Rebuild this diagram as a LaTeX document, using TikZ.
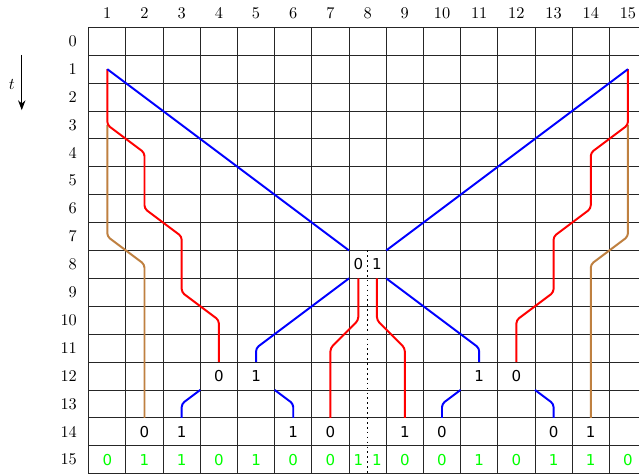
\documentclass[tikz,border=0pt]{standalone}
\usepackage{fontspec}
\newfontfamily\dejavu{DejaVu Sans}
\usetikzlibrary{arrows.meta}
\begin{document}
\begin{tikzpicture}[x=0.8cm,y=-0.6cm,
  gridline/.style={line width=0.5pt,black!85},
  world/.style={line width=1.2pt,rounded corners=2pt},
  axlab/.style={font=\fontsize{10}{12}\selectfont,inner sep=0pt},
  bit/.style={font=\dejavu\fontsize{9.2}{11}\selectfont,inner sep=0pt},
  outbit/.style={bit,text=green}]
\useasboundingbox (-1.885,-1.479) rectangle (15.297,15.525);
\clip (-1.885,-1.479) rectangle (15.297,15.525);
% grid
\foreach \i in {0,...,15} \draw[gridline] (\i+0.5,-0.5) -- (\i+0.5,15.5);
\foreach \j in {0,...,16} \draw[gridline] (0.5,\j-0.5) -- (15.6,\j-0.5);
% axis labels
\foreach \c in {1,...,15} \node[axlab] (col\c) at (\c,-1) {\c};
\foreach \r in {0,...,15} \node[axlab,anchor=east] (row\r) at (0.19,\r) {\r};
\coordinate (tA) at (-1.30,0.49);
\coordinate (tB) at (-1.30,2.47);
\draw[semithick,-{Stealth[length=6pt,width=4.5pt]}] (tA) -- (tB);
\node[axlab] (tlab) at (-1.57,1.545) {$t$};
% dotted separator
\coordinate (dA) at (8,7.5);
\coordinate (dB) at (8,15.6);
\draw[dotted,line width=1pt] (dA) -- (dB);
% brown world lines
\draw[world,brown] (1,3) -- (1,7) -- (2,8) -- (2,13.5);
\draw[world,brown] (15,3) -- (15,7) -- (14,8) -- (14,13.5);
% red world lines
\draw[world,red] (1,1) -- (1,3) -- (2,4) -- (2,6) -- (3,7) -- (3,9) -- (4,10) -- (4,11.5);
\draw[world,red] (15,1) -- (15,3) -- (14,4) -- (14,6) -- (13,7) -- (13,9) -- (12,10) -- (12,11.5);
\draw[world,red] (7.75,8.5) -- (7.75,10) -- (7,11) -- (7,13.5);
\draw[world,red] (8.25,8.5) -- (8.25,10) -- (9,11) -- (9,13.5);
% blue world lines
\draw[world,blue] (1,1) -- (7.5,7.5);
\draw[world,blue] (15,1) -- (8.5,7.5);
\draw[world,blue] (7.5,8.5) -- (5,11) -- (5,11.5);
\draw[world,blue] (8.5,8.5) -- (11,11) -- (11,11.5);
\draw[world,blue] (3.5,12.5) -- (3,13) -- (3,13.5);
\draw[world,blue] (5.5,12.5) -- (6,13) -- (6,13.5);
\draw[world,blue] (10.5,12.5) -- (10,13) -- (10,13.5);
\draw[world,blue] (12.5,12.5) -- (13,13) -- (13,13.5);
% bits
\node[bit] (m0) at (7.75,8) {0};
\node[bit] (m1) at (8.25,8) {1};
\node[bit] (a4) at (4,12) {0};
\node[bit] (a5) at (5,12) {1};
\node[bit] (a11) at (11,12) {1};
\node[bit] (a12) at (12,12) {0};
\node[bit] (b2) at (2,14) {0};
\node[bit] (b3) at (3,14) {1};
\node[bit] (b6) at (6,14) {1};
\node[bit] (b7) at (7,14) {0};
\node[bit] (b9) at (9,14) {1};
\node[bit] (b10) at (10,14) {0};
\node[bit] (b13) at (13,14) {0};
\node[bit] (b14) at (14,14) {1};
% output row
\foreach \x/\v [count=\k] in {1/0,2/1,3/1,4/0,5/1,6/0,7/0,7.75/1,8.25/1,9/0,10/0,11/1,12/0,13/1,14/1,15/0}
  \node[outbit] (o\k) at (\x,15) {\v};
\end{tikzpicture}
\end{document}
